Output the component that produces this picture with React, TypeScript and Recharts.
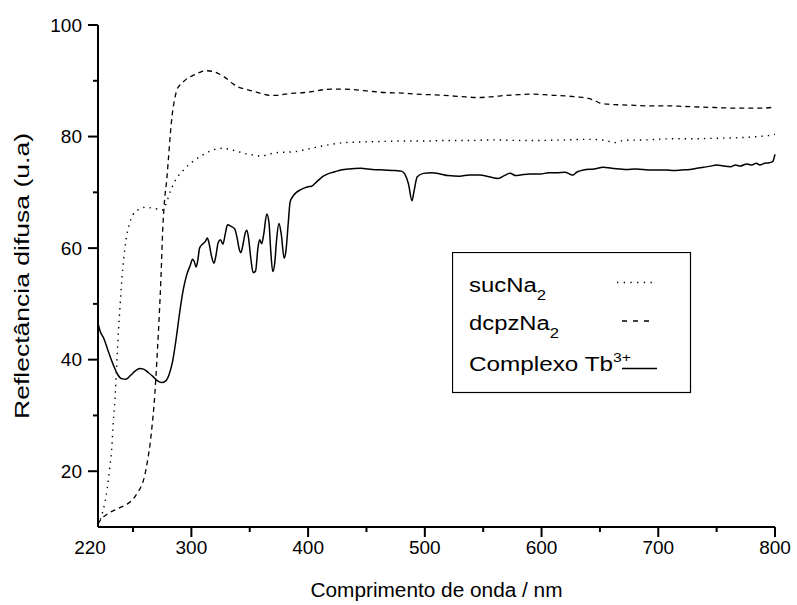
import React from 'react';
import { LineChart, Line, XAxis, YAxis, Legend } from 'recharts';

const FONT = "Arial, 'Liberation Sans', sans-serif";

// axis ticks
const xTicks = [220, 250, 300, 350, 400, 450, 500, 550, 600, 650, 700, 750, 800];
const xTickLabels = [220, 300, 400, 500, 600, 700, 800];
const yTicks = [20, 30, 40, 50, 60, 70, 80, 90, 100];
const yTickLabels = [20, 40, 60, 80, 100];

// sucNa2 (dotted)
const sucNm = [220, 223, 226, 228, 230, 231.7, 233, 234.6, 236, 237.5, 239, 240.5, 242, 244, 247, 250, 254, 260, 266, 271, 275, 277, 279, 281, 283, 287, 292, 297, 303, 309, 315, 320, 326, 333, 340, 347, 353, 360, 366, 372, 380, 389, 396, 403, 412, 420, 430, 440, 460, 480, 500, 520, 540, 560, 580, 600, 620, 640, 655, 662, 670, 690, 710, 730, 750, 770, 785, 795, 800];
const sucVal = [10.3, 12.0, 14.5, 17.0, 20.5, 23.8, 28.5, 33.0, 39.0, 45.0, 50.0, 54.5, 58.0, 61.5, 64.4, 66.0, 66.8, 67.3, 67.2, 67.0, 66.8, 67.3, 68.3, 69.6, 70.7, 72.4, 73.7, 74.8, 75.8, 76.6, 77.3, 77.7, 77.9, 77.7, 77.3, 76.9, 76.7, 76.5, 76.8, 77.1, 77.2, 77.3, 77.6, 77.9, 78.3, 78.6, 78.9, 79.0, 79.1, 79.2, 79.2, 79.3, 79.3, 79.4, 79.3, 79.3, 79.4, 79.5, 79.3, 78.9, 79.3, 79.4, 79.6, 79.6, 79.7, 79.8, 80.0, 80.2, 80.4];

// dcpzNa2 (dashed)
const dcpzNm = [220, 223, 226, 230, 235, 240, 245, 250, 254, 257, 259, 261, 263, 265, 266.5, 268, 269.5, 271, 272.5, 274, 275.5, 277, 279, 280.5, 282, 283.5, 285.5, 287.5, 290, 293, 297, 302, 307, 312, 318, 323, 328, 332, 336, 340, 346, 352, 360, 367, 374, 380, 390, 397, 405, 413, 420, 430, 439, 450, 465, 480, 493, 505, 522, 535, 545, 555, 565, 580, 593, 602, 610, 620, 630, 639, 645, 650, 657, 665, 680, 693, 710, 722, 735, 750, 765, 779, 790, 800];
const dcpzVal = [10.5, 11.5, 12.0, 12.6, 13.1, 13.6, 14.1, 15.0, 16.2, 17.3, 18.4, 20.2, 22.6, 25.5, 28.5, 31.8, 36.5, 42.0, 48.0, 55.0, 63.5, 68.5, 72.5, 76.5, 80.5, 83.8, 86.5, 88.3, 89.2, 89.8, 90.5, 91.0, 91.5, 91.8, 91.7, 91.3, 90.7, 90.1, 89.4, 88.9, 88.5, 88.2, 87.7, 87.4, 87.4, 87.6, 87.8, 87.9, 88.1, 88.4, 88.5, 88.5, 88.4, 88.2, 87.9, 87.8, 87.6, 87.5, 87.3, 87.1, 87.0, 87.1, 87.3, 87.5, 87.6, 87.5, 87.4, 87.3, 87.1, 86.9, 86.5, 86.0, 85.8, 85.7, 85.6, 85.5, 85.5, 85.4, 85.3, 85.2, 85.1, 85.1, 85.1, 85.3];

// Complexo Tb3+ (solid)
const tbNm = [220, 222, 225, 228, 231, 234, 237, 240, 244, 248, 252, 256, 259, 263, 267, 271, 274.5, 278, 281, 284, 287, 290, 293, 296, 299, 301, 302.5, 304, 305.5, 307, 310, 312, 313.7, 315, 317, 319.4, 321, 323, 325, 327, 329, 331, 334, 337, 339, 341, 342.5, 344, 346, 347.5, 349, 351, 353, 355, 357, 358.5, 360.3, 362, 364.6, 366.5, 368, 369.7, 371.5, 373, 375, 377, 379.5, 381, 383, 384.6, 387, 390, 393, 397, 400, 403, 408, 413, 418, 423, 428, 435, 445, 455, 465, 475, 480, 483, 486, 489, 491, 493.5, 499, 506, 513, 520, 530, 538, 547, 555, 563, 568, 573, 578, 582, 590, 599, 606, 613, 620, 625, 627, 630, 636, 645, 653, 660, 667, 673, 680, 687, 694, 701, 707, 713, 720, 727, 733, 739, 745, 750, 756, 762, 766, 770, 776, 780, 784, 787, 791, 795, 798, 799, 800];
const tbVal = [46.5, 45.0, 43.8, 42.0, 40.2, 38.6, 37.3, 36.6, 36.5, 37.2, 38.0, 38.4, 38.3, 37.7, 37.0, 36.2, 35.9, 36.2, 37.4, 39.8, 43.8, 48.5, 52.5, 55.2, 56.9, 58.0, 57.6, 56.6, 57.8, 60.0, 60.8, 61.2, 61.8, 61.0, 58.8, 57.3, 58.6, 61.0, 61.5, 60.7, 62.5, 64.2, 63.9, 63.5, 62.0, 59.8, 59.2, 60.4, 62.6, 63.2, 61.8, 58.0, 55.6, 55.9, 60.0, 61.5, 60.8, 62.5, 66.1, 64.5, 59.5, 55.8, 57.5, 61.5, 64.4, 62.5, 58.2, 59.5, 64.5, 68.3, 69.3, 70.0, 70.4, 70.8, 71.0, 71.1, 72.0, 72.9, 73.4, 73.7, 74.0, 74.2, 74.3, 74.1, 74.0, 73.9, 73.8, 73.2, 71.5, 68.5, 70.5, 72.8, 73.4, 73.5, 73.3, 73.0, 72.9, 73.1, 73.1, 72.8, 72.5, 73.0, 73.4, 73.0, 73.1, 73.3, 73.3, 73.5, 73.5, 73.6, 73.2, 73.1, 73.6, 74.0, 74.2, 74.5, 74.3, 74.2, 74.1, 74.2, 74.1, 74.0, 74.0, 74.0, 73.9, 74.0, 74.1, 74.3, 74.5, 74.7, 74.9, 74.7, 74.6, 74.9, 74.7, 75.1, 74.9, 75.2, 74.9, 75.2, 75.3, 75.5, 76.0, 76.8];

const toPoints = (nm: number[], val: number[]) => nm.map((x, i) => ({ nm: x, v: val[i] }));

const XTick = ({ x, y, payload }: any) => {
  const v = payload.value;
  const major = xTickLabels.includes(v);
  const corner = v === 220;
  return (
    <g>
      {!corner && <line x1={x} y1={y} x2={x} y2={y + (major ? 10 : 5)} stroke="#000" strokeWidth={2} />}
      {major && (
        <text x={corner ? x - 8 : x} y={y + 27} textAnchor="middle" fontSize={19} fontFamily={FONT} fill="#000">
          {v}
        </text>
      )}
    </g>
  );
};

const YTick = ({ x, y, payload }: any) => {
  const v = payload.value;
  const major = yTickLabels.includes(v);
  return (
    <g>
      <line x1={x - (major ? 10 : 5)} y1={y} x2={x} y2={y} stroke="#000" strokeWidth={2} />
      {major && (
        <text x={x - 16} y={y} dy={6.5} textAnchor="end" fontSize={19} fontFamily={FONT} fill="#000">
          {v}
        </text>
      )}
    </g>
  );
};

const XTitle = ({ viewBox }: any) => (
  <text x={viewBox.x + viewBox.width / 2 - 126} y={viewBox.y + 70} textLength={252} lengthAdjust="spacingAndGlyphs" fontSize={20} fontFamily={FONT} fill="#000">
    Comprimento de onda / nm
  </text>
);

const YTitle = ({ viewBox }: any) => {
  const cy = viewBox.y + viewBox.height / 2;
  return (
    <text x={22 - 143} y={cy} transform={`rotate(-90, 22, ${cy})`} dx={143} textLength={286} lengthAdjust="spacingAndGlyphs" dominantBaseline="central" fontSize={20} fontFamily={FONT} fill="#000" textAnchor="middle">
      Reflectância difusa (u.a)
    </text>
  );
};

const LegendBox = () => (
  <svg width={240} height={142} style={{ display: 'block' }}>
    <rect x={0.5} y={0.5} width={238} height={140} fill="#fff" stroke="#000" strokeWidth={1.2} />
    <text x={17} y={39.7} fontSize={20} fontFamily={FONT} fill="#000" textLength={77} lengthAdjust="spacingAndGlyphs">
      sucNa<tspan fontSize={14} dy={8}>2</tspan>
    </text>
    <line x1={165} y1={30.5} x2={205} y2={30.5} stroke="#000" strokeWidth={1.3} strokeDasharray="1.3 5.4" />
    <text x={17} y={78} fontSize={20} fontFamily={FONT} fill="#000" textLength={90} lengthAdjust="spacingAndGlyphs">
      dcpzNa<tspan fontSize={14} dy={8}>2</tspan>
    </text>
    <line x1={170} y1={69} x2={201} y2={69} stroke="#000" strokeWidth={1.3} strokeDasharray="5 6" />
    <text x={17} y={118.7} fontSize={20} fontFamily={FONT} fill="#000" textLength={162} lengthAdjust="spacingAndGlyphs">
      Complexo Tb<tspan fontSize={13} dy={-9}>3+</tspan>
    </text>
    <line x1={170} y1={116.5} x2={205} y2={116.5} stroke="#000" strokeWidth={1.3} />
  </svg>
);

export default function App() {
  return (
    <div style={{ position: 'absolute', left: 0, top: 0, background: '#fff' }}>
      <LineChart width={797} height={605} margin={{ top: 25, right: 22, left: 18, bottom: 28 }}>
        <XAxis
          dataKey="nm"
          type="number"
          domain={[220, 800]}
          ticks={xTicks}
          interval={0}
          tick={<XTick />}
          tickLine={false}
          tickSize={0}
          tickMargin={0}
          height={50}
          axisLine={{ stroke: '#000', strokeWidth: 2 }}
          label={<XTitle />}
          allowDuplicatedCategory={false}
        />
        <YAxis
          type="number"
          domain={[10, 100]}
          ticks={yTicks}
          interval={0}
          tick={<YTick />}
          tickLine={false}
          tickSize={0}
          tickMargin={0}
          width={80}
          axisLine={{ stroke: '#000', strokeWidth: 2 }}
          label={<YTitle />}
        />
        <Legend
          layout="vertical"
          align="center"
          verticalAlign="middle"
          content={() => <LegendBox />}
          wrapperStyle={{ left: 452, top: 252, width: 240, height: 142 }}
        />
        <Line data={toPoints(sucNm, sucVal)} dataKey="v" name="sucNa2" type="monotone" stroke="#000" strokeWidth={1.4} strokeDasharray="1.4 5" dot={false} activeDot={false} isAnimationActive={false} />
        <Line data={toPoints(dcpzNm, dcpzVal)} dataKey="v" name="dcpzNa2" type="monotone" stroke="#000" strokeWidth={1.3} strokeDasharray="5 4" dot={false} activeDot={false} isAnimationActive={false} />
        <Line data={toPoints(tbNm, tbVal)} dataKey="v" name="Complexo Tb3+" type="monotone" stroke="#000" strokeWidth={1.5} dot={false} activeDot={false} isAnimationActive={false} />
      </LineChart>
    </div>
  );
}
